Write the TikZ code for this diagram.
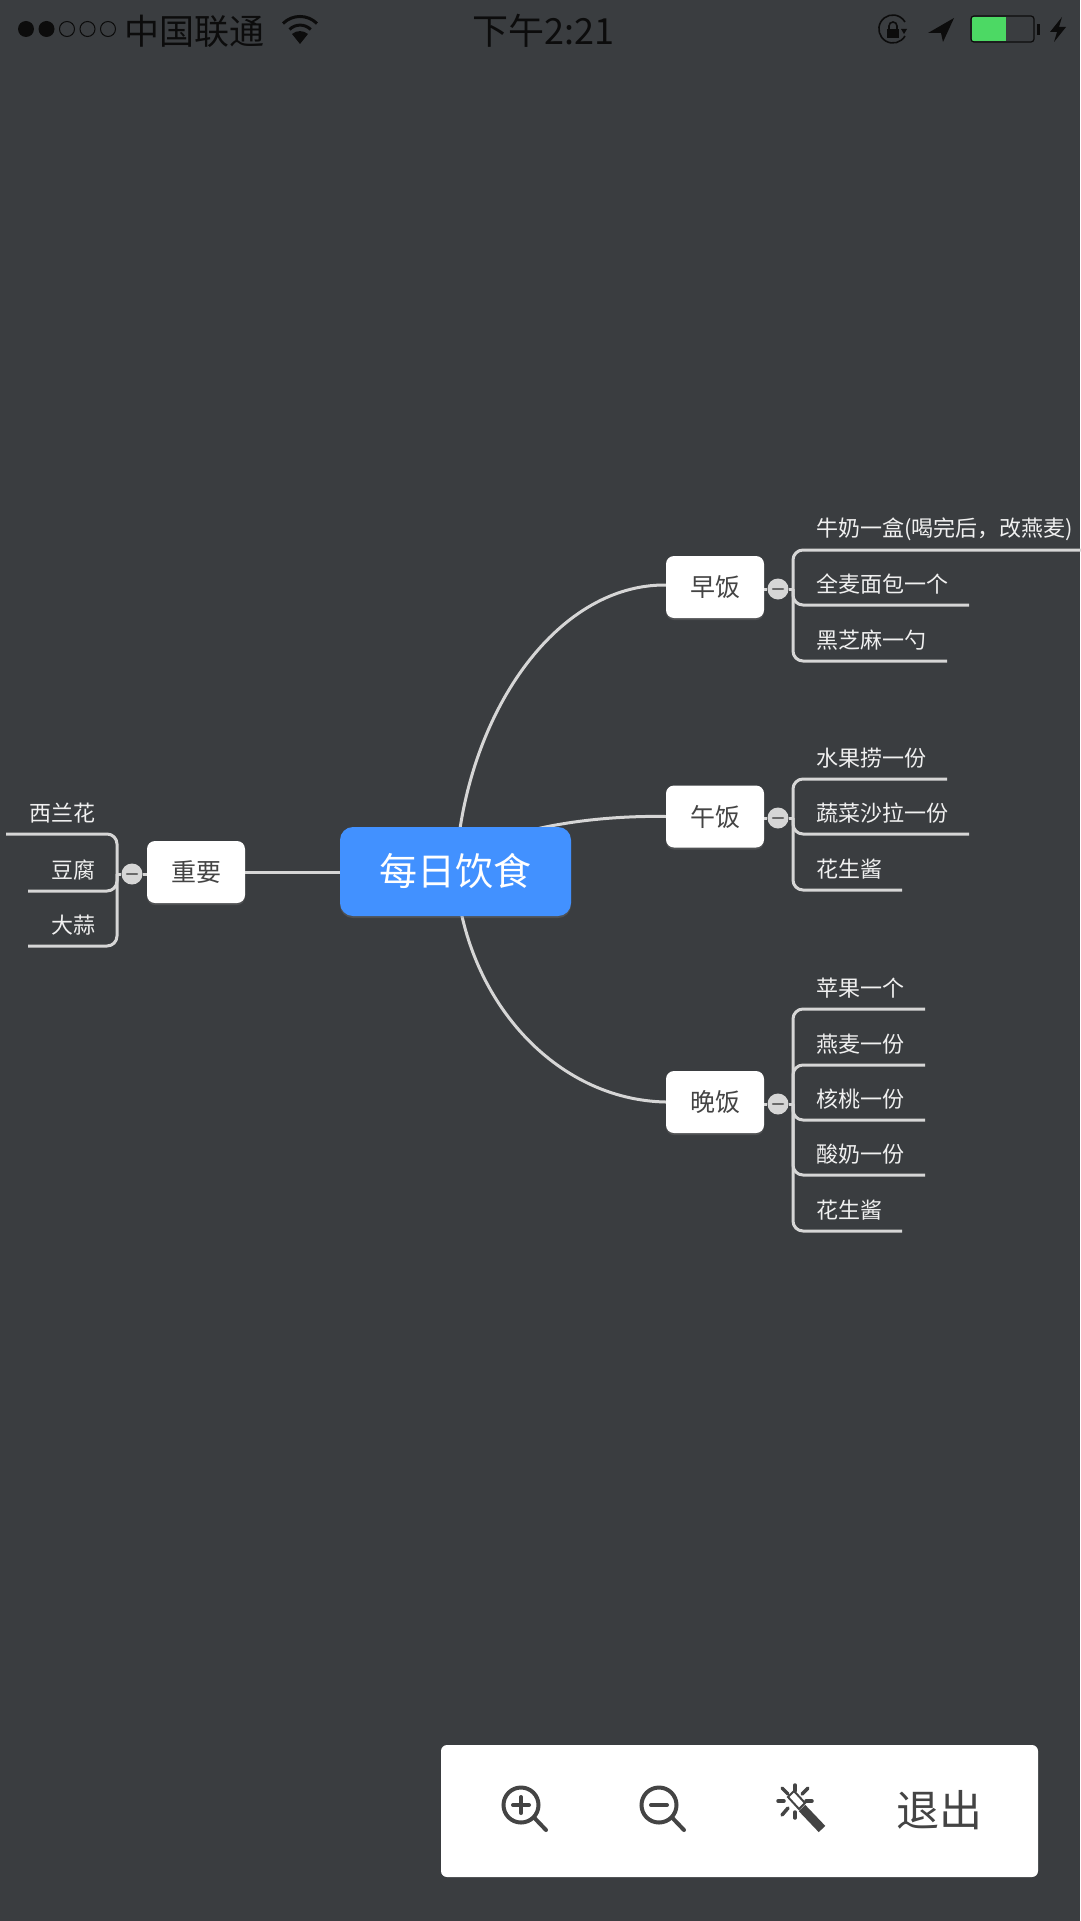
\documentclass[tikz,border=0pt]{standalone}
\usepackage{fontspec}
\setmainfont{Noto Sans CJK SC}
\usepackage{tikz}
\usetikzlibrary{calc}
\usetikzlibrary{shadows}
\usetikzlibrary{backgrounds}
\definecolor{screenbg}{HTML}{3A3D40}
\definecolor{linegray}{HTML}{D6D6D6}
\definecolor{rootblue}{HTML}{4291FF}
\definecolor{inkgray}{HTML}{444444}
\definecolor{barblack}{HTML}{0C0C0C}
\definecolor{batgreen}{HTML}{4CD964}
\tikzset{
  x=1pt,y=-1pt,
  rootbox/.style={shape=rectangle,fill=rootblue,rounded corners=13pt,minimum width=231pt,minimum height=89pt,inner sep=0pt,text=white,font=\fontsize{38}{42}\selectfont,drop shadow={opacity=.3,shadow xshift=0pt,shadow yshift=-2pt}},
  mealbox/.style={shape=rectangle,fill=white,rounded corners=8pt,minimum width=98pt,minimum height=62pt,inner sep=0pt,text=inkgray,font=\fontsize{25}{28}\selectfont,drop shadow={opacity=.3,shadow xshift=0pt,shadow yshift=-2pt}},
  leaftext/.style={inner sep=0pt,text=white!94!black,font=\fontsize{22}{26}\selectfont},
  curve/.style={draw=linegray,line width=3pt},
  branch/.style={draw=linegray,line width=3pt,rounded corners=10pt},
  toggle/.style={shape=circle,fill=linegray,minimum size=21pt,inner sep=0pt,path picture={\draw[inkgray!80,line width=2.5pt,line cap=round] ($(path picture bounding box.center)+(-5,0)$) -- ($(path picture bounding box.center)+(5,0)$);}},
  bartext/.style={inner sep=0pt,text=barblack,font=\fontsize{35}{38}\selectfont},
  icon/.style={draw=inkgray,line width=4pt,line cap=round},
}
% one leaf of a meal: name, junction, bar height, bar end, text
\newcommand{\leaf}[5]{
  \coordinate (#1) at (#4,#3);
  \node[leaftext,anchor=west] (#1t) at (816,#3-21) {#5};
  \draw[branch] (#2) |- (#1);
}
\newcommand{\leafleft}[5]{
  \coordinate (#1) at (#4,#3);
  \node[leaftext,anchor=east] (#1t) at (96,#3-21) {#5};
  \draw[branch] (#2) |- (#1);
}
\begin{document}
\begin{tikzpicture}
  \useasboundingbox (0,0) rectangle (1080,1921);

  % meals and root
  \node[rootbox] (root) at (455.5,871.5) {每日饮食};
  \node[mealbox] (zao) at (715,587) {早饭};
  \node[mealbox] (wu) at (715,816.5) {午饭};
  \node[mealbox] (wan) at (715,1102) {晚饭};
  \node[mealbox] (imp) at (196,872) {重要};

  \begin{pgfonlayer}{background}
    \fill[screenbg] (0,0) rectangle (1080,1921);
    \draw[curve] (root.center) .. controls (464,715) and (556,584) .. ($(zao.west)+(0,-2)$);
    \draw[curve] (root.center) .. controls (480,830) and (590,815) .. (wu.west);
    \draw[curve] (root.center) .. controls (464,1000) and (556,1100) .. (wan.west);
    \draw[curve] (imp.east) -- (imp.east -| root.west);
  \end{pgfonlayer}

  % breakfast
  \node[toggle] (zaoT) at (778,589) {};
  \coordinate (zaoJ) at (793,589);
  \draw[curve] (zaoT -| zao.east) -- (zaoT) -- (zaoJ);
  \leaf{zaoa}{zaoJ}{550}{1082}{牛奶一盒(喝完后，改燕麦)}
  \leaf{zaob}{zaoJ}{605}{969}{全麦面包一个}
  \leaf{zaoc}{zaoJ}{661}{947}{黑芝麻一勺}

  % lunch
  \node[toggle] (wuT) at (778,818) {};
  \coordinate (wuJ) at (793,818);
  \draw[curve] (wuT -| wu.east) -- (wuT) -- (wuJ);
  \leaf{wua}{wuJ}{779}{947}{水果捞一份}
  \leaf{wub}{wuJ}{834}{969}{蔬菜沙拉一份}
  \leaf{wuc}{wuJ}{890}{902}{花生酱}

  % dinner
  \node[toggle] (wanT) at (778,1104) {};
  \coordinate (wanJ) at (793,1104);
  \draw[curve] (wanT -| wan.east) -- (wanT) -- (wanJ);
  \leaf{wana}{wanJ}{1009}{925}{苹果一个}
  \leaf{wanb}{wanJ}{1065}{925}{燕麦一份}
  \leaf{wanc}{wanJ}{1120}{925}{核桃一份}
  \leaf{wand}{wanJ}{1175}{925}{酸奶一份}
  \leaf{wane}{wanJ}{1231}{902}{花生酱}

  % left side
  \node[toggle] (impT) at (132,874) {};
  \coordinate (impJ) at (117,874);
  \draw[curve] (impT -| imp.west) -- (impT) -- (impJ);
  \leafleft{impa}{impJ}{834}{6}{西兰花}
  \leafleft{impb}{impJ}{891}{28}{豆腐}
  \leafleft{impc}{impJ}{946}{28}{大蒜}

  % tool bar
  \node[shape=rectangle,fill=white,rounded corners=6pt,minimum width=597pt,minimum height=132pt,inner sep=0pt] (toolbar) at (739.5,1811) {};
  \node[inner sep=0pt,text=inkgray,font=\fontsize{43}{48}\selectfont] (quit) at (939,1810) {退出};
  \draw[icon] (521,1805) circle (17.5);
  \draw[icon] (513,1805) -- (529,1805);
  \draw[icon] (521,1797) -- (521,1813);
  \draw[icon] (534.5,1818) -- (546,1830);
  \draw[icon] (659,1805) circle (17.5);
  \draw[icon] (651,1805) -- (667,1805);
  \draw[icon] (672.5,1818) -- (684,1830);
  \draw[icon,line width=9pt,line cap=butt] (802,1808) -- (822,1829);
  \draw[inkgray,line width=2pt,fill=white] (788,1797) -- (794,1791) -- (805,1803) -- (799,1809) -- cycle;
  \draw[icon,line width=3.5pt] (795,1785) -- (795,1791);
  \draw[icon,line width=3.5pt] (778,1801) -- (784,1801);
  \draw[icon,line width=3.5pt] (806,1801) -- (812,1801);
  \draw[icon,line width=3.5pt] (795,1812) -- (795,1818);
  \draw[icon,line width=3.5pt] (782,1788) -- (788,1794);
  \draw[icon,line width=3.5pt] (808,1788) -- (802,1794);
  \draw[icon,line width=3.5pt] (782,1815) -- (788,1808);

  % status bar
  \fill[barblack] (26,29) circle (8);
  \fill[barblack] (46.5,29) circle (8);
  \draw[barblack,line width=1pt] (67,29) circle (7.5);
  \draw[barblack,line width=1pt] (87.5,29) circle (7.5);
  \draw[barblack,line width=1pt] (108,29) circle (7.5);
  \node[bartext] (carrier) at (194.5,31) {中国联通};
  \node[bartext,font=\fontsize{36}{38}\selectfont] (clock) at (543,31) {下午2:21};
  % wifi
  \fill[barblack] (300,44) -- (292,34) arc[start angle=230,end angle=310,radius=12.4] -- cycle;
  \draw[barblack,line width=3pt] (289.5,29.5) arc[start angle=225,end angle=315,radius=15];
  \draw[barblack,line width=3pt] (283,23.5) arc[start angle=225,end angle=315,radius=24];
  % lock
  \draw[barblack,line width=1.6pt] (905,36) arc[start angle=30,end angle=330,radius=14];
  \fill[barblack] (907,29) -- (901,29) -- (904,34) -- cycle;
  \fill[barblack] (887,29) rectangle (899,38);
  \draw[barblack,line width=1.6pt] (889,29) -- (889,26) arc[start angle=180,end angle=360,radius=4] -- (897,29);
  % location
  \fill[barblack] (954,18) -- (928,33) -- (941,33) -- (943,42) -- cycle;
  % battery
  \fill[batgreen] (972,17) rectangle (1006,41);
  \draw[barblack,line width=1.2pt,rounded corners=3pt] (971,16) rectangle (1034,42);
  \fill[barblack] (1037,24) rectangle (1040,35);
  % bolt
  \fill[barblack] (1062,17) -- (1050,32) -- (1057,32) -- (1054,42) -- (1066,27) -- (1059,27) -- cycle;
\end{tikzpicture}
\end{document}
